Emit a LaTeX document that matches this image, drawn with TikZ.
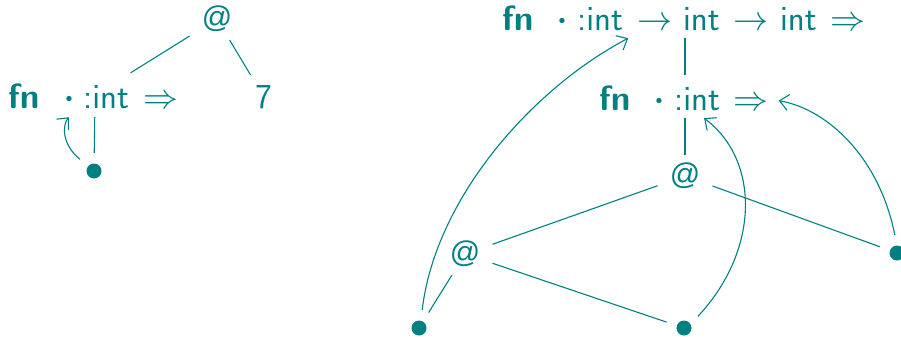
\RequirePackage{fix-cm}
\documentclass[tikz,border=0pt]{standalone}
\usepackage{fontspec}
\usetikzlibrary{arrows.meta}
\definecolor{tl}{RGB}{0,128,128}
\newfontfamily\atfont{Liberation Sans}
\newcommand{\cmssfont}{\fontencoding{OT1}\fontfamily{cmss}\fontsize{35}{42}\selectfont}
\begin{document}
\begin{tikzpicture}[x=1pt,y=-1pt,
  every node/.style={text=tl, font=\cmssfont, inner sep=0pt},
  edge/.style={draw=tl, line width=1.1pt},
  arr/.style={edge, -{Straight Barb[length=9pt,width=16pt]}},
  atnode/.style={inner xsep=12pt, inner ysep=8pt, font=\atfont\fontsize{30}{36}\selectfont},
  cdotnode/.style={anchor=base, font=\fontsize{50}{50}\selectfont},
  dotpt/.style={circle, minimum size=36pt, path picture={\fill[tl] (path picture bounding box.center) circle (7.5pt);}}]
\useasboundingbox (0,0) rectangle (901,338);
% left tree
\node[atnode] (atL) at (217,19) {@};
\node[anchor=base west] (fnC) at (8,108) {\bfseries fn};
\node[cdotnode] (dC) at (69,111) {$\cdot$};
\node[anchor=base west] (cC) at (83,108) {:int};
\node[anchor=base] (mC) at (160.5,108) {$\Rightarrow$};
\node[anchor=base, inner xsep=10pt, inner ysep=10pt] (seven) at (263.5,108) {7};
\node[minimum width=80pt, minimum height=44pt] (vL) at (95,95) {};
\node[dotpt] (pL) at (94,171) {};
\draw[edge] (atL) -- (vL);
\draw[edge] (atL) -- (seven);
\draw[edge] (vL) -- (pL);
\draw[arr] (pL.140) .. controls (62,145) and (62,125) .. ([yshift=-6pt]dC.south);
% right: top row
\node[anchor=base west] (fnA) at (502,30) {\bfseries fn};
\node[cdotnode] (dA) at (562,33) {$\cdot$};
\node[anchor=base west] (cA) at (577,30) {:int};
\node[anchor=base] (rA) at (654.5,30) {$\to$};
\node[anchor=base west] (iA) at (683,30) {int};
\node[anchor=base] (rB) at (751,30) {$\to$};
\node[anchor=base west] (iB) at (780,30) {int};
\node[anchor=base] (mA) at (848,30) {$\Rightarrow$};
% second row
\node[anchor=base west] (fnB) at (599,110) {\bfseries fn};
\node[cdotnode] (dB) at (659.5,113) {$\cdot$};
\node[anchor=base west] (cB) at (674,110) {:int};
\node[anchor=base] (mB) at (751,110) {$\Rightarrow$};
\node[minimum width=40pt, minimum height=38pt] (vT1) at (685,19) {};
\node[minimum width=40pt, minimum height=43pt] (vT2) at (685,96.5) {};
% applications and variables
\node[atnode] (atT) at (685,176) {@};
\node[atnode] (atM) at (465,254) {@};
\node[dotpt] (pA) at (419,328) {};
\node[dotpt] (pB) at (684,328) {};
\node[dotpt] (pC) at (897,253) {};
\draw[edge] (vT1) -- (vT2);
\draw[edge] (vT2) -- (atT);
\draw[edge] (atT) -- (atM);
\draw[edge] (atT) -- (pC);
\draw[edge] (atM) -- (pB);
\draw[edge] (atM) -- (pA);
\draw[arr] (pA.80) .. controls (435,200) and (530,90) .. ([xshift=5pt,yshift=-8pt]cA.south east);
\draw[arr] (pB.40) .. controls (760,250) and (760,160) .. ([xshift=7pt,yshift=-8pt]cB.south);
\draw[arr] (pC.97) .. controls (880,160) and (830,110) .. ([xshift=10pt,yshift=3pt]mB.east);
\end{tikzpicture}
\end{document}
